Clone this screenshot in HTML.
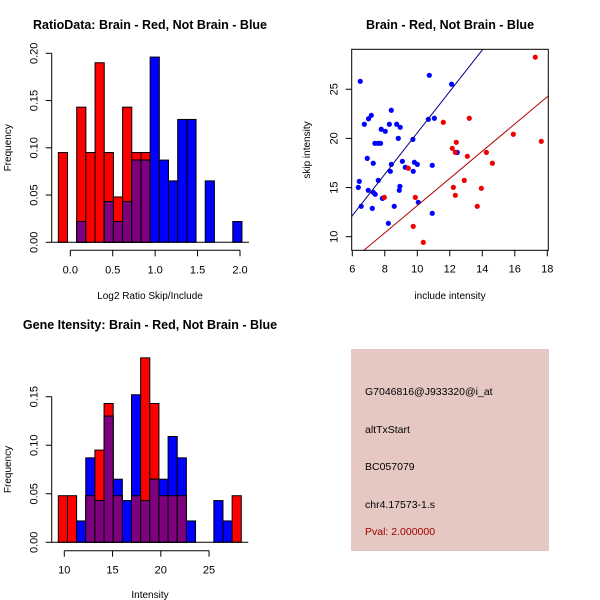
<!DOCTYPE html>
<html><head><meta charset="utf-8"><style>
html,body{margin:0;padding:0;background:#fff;}
svg{display:block;font-family:"Liberation Sans",Arial,sans-serif;}
</style></head><body>
<svg id="c" width="600" height="600" viewBox="0 0 600 600"></svg>
<script>
// ---- data ----
const ratioRed = [0.095,0,0.143,0.095,0.19,0.095,0.048,0.143,0.095,0.095,0,0,0,0,0,0,0,0,0,0];
const ratioBlue = [0,0,0.022,0,0,0.043,0.022,0.043,0.087,0.087,0.196,0.087,0.065,0.13,0.13,0,0.065,0,0,0.022];
const ratioBinStart = -0.141, ratioBinWidth = 0.1082;
const ratioXTicks = [0,0.5,1.0,1.5,2.0];
const ratioXTickLabels = ["0.0","0.5","1.0","1.5","2.0"];
const ratioYTicks = [0,0.05,0.10,0.15,0.20];
const ratioYTickLabels = ["0.00","0.05","0.10","0.15","0.20"];

const geneRed = [0.048,0.048,0,0.048,0.095,0.143,0.048,0,0.048,0.19,0.143,0.048,0.048,0.048,0,0,0,0,0,0.048];
const geneBlue = [0,0,0.022,0.087,0.043,0.13,0.065,0.043,0.152,0.043,0.065,0.065,0.109,0.087,0.022,0,0,0.043,0.022,0];
const geneBinStart = 9.38, geneBinWidth = 0.948;
const geneXTicks = [10,15,20,25];
const geneYTicks = [0,0.05,0.10,0.15];
const geneYTickLabels = ["0.00","0.05","0.10","0.15"];

const blueX = [6.49,10.74,12.11,6.74,7.0,7.17,8.4,8.73,8.28,8.95,7.78,8.03,8.83,9.73,10.68,11.05,7.39,7.58,7.74,6.92,7.29,9.08,9.82,10.0,10.92,8.4,9.26,8.34,9.75,12.46,6.43,6.37,7.6,8.93,8.89,6.98,7.29,7.41,7.85,6.55,8.58,7.23,10.06,10.92,8.22];
const blueY = [25.81,26.42,25.51,21.44,22.0,22.35,22.86,21.44,21.44,21.13,20.93,20.72,20.0,19.9,21.94,22.05,19.5,19.5,19.5,17.97,17.47,17.67,17.57,17.36,17.26,17.36,17.06,16.65,16.65,18.58,15.63,15.02,15.73,15.12,14.72,14.72,14.51,14.31,13.9,13.09,13.09,12.88,13.5,12.38,11.36];
const redX = [17.26,17.63,15.91,14.62,14.25,11.6,13.2,12.4,12.15,12.34,13.08,12.89,12.22,13.94,12.34,13.69,9.45,9.88,7.97,9.75,10.37];
const redY = [28.26,19.7,20.42,17.47,18.58,21.64,22.05,19.6,18.99,18.58,18.18,15.73,15.02,14.92,14.21,13.09,16.96,14.0,14.0,11.05,9.42];
const blueLine = [12.14, 2.107]; // intercept at x=6, slope
const redLine = [8.57, 1.384];   // intercept at x=6.68, slope
const scatXTicks = [6,8,10,12,14,16,18];
const scatYTicks = [10,15,20,25];

const NS="http://www.w3.org/2000/svg";
const svg=document.getElementById('c');
function mk(tag,attrs,parent){const e=document.createElementNS(NS,tag);for(const k in attrs)e.setAttribute(k,attrs[k]);(parent||svg).appendChild(e);return e;}
function txt(s,x,y,attrs,parent){const t=mk('text',Object.assign({x:x,y:y,'font-size':11,'text-anchor':'middle'},attrs||{}),parent);t.textContent=s;return t;}

function histogram(name,red,blue,binStart,binW,xs,x0px,ypx0,ys,xTicks,xLabels,yTicks,yLabels,xAxisY,axisLeft,title,titleY,xlab,xlabY){
  const g=mk('g',{});
  
  
  const X=v=>x0px+(v-xs[0])*xs[1];
  const Y=v=>ypx0-v*ys;
  for(let i=0;i<red.length;i++){
    const l=X(binStart+i*binW), r=X(binStart+(i+1)*binW);
    const rv=red[i], bv=blue[i], m=Math.min(rv,bv);
    if(rv>0){const b=mk('rect',{x:l,y:Y(rv),width:r-l,height:Y(0)-Y(rv),fill:'#ff0000',stroke:'#000','stroke-width':1},g);
      
      }
    if(bv>0){const b=mk('rect',{x:l,y:Y(bv),width:r-l,height:Y(0)-Y(bv),fill:'#0000ff',stroke:'#000','stroke-width':1},g);
      
      }
    if(m>0){const b=mk('rect',{x:l,y:Y(m),width:r-l,height:Y(0)-Y(m),fill:'#7f007f',stroke:'#000','stroke-width':1},g);
      
      }
  }
  const ya=mk('g',{},g);
  
  
  mk('line',{x1:axisLeft,x2:axisLeft,y1:Y(yTicks[0]),y2:Y(yTicks[yTicks.length-1]),stroke:'#000'},ya);
  yTicks.forEach((v,i)=>{mk('line',{x1:axisLeft-6,x2:axisLeft,y1:Y(v),y2:Y(v),stroke:'#000'},ya);
    txt(yLabels[i],axisLeft-14,Y(v),{transform:`rotate(-90 ${axisLeft-14} ${Y(v)})`},ya);});
  mk('line',{x1:axisLeft,x2:X(binStart+red.length*binW)+7,y1:ypx0,y2:ypx0,stroke:'#000'},g);
  const xa=mk('g',{},g);
  
  
  mk('line',{x1:X(xTicks[0]),x2:X(xTicks[xTicks.length-1]),y1:xAxisY,y2:xAxisY,stroke:'#000'},xa);
  xTicks.forEach((v,i)=>{mk('line',{x1:X(v),x2:X(v),y1:xAxisY,y2:xAxisY+6,stroke:'#000'},xa);
    txt(xLabels[i],X(v),xAxisY+23,{},xa);});
  const t=txt(title,150,titleY,{'font-weight':'bold','font-size':12.5},g);
  
  
  const xl=txt(xlab,150,xlabY,{'font-size':10},g);
  
  
  const yl=txt('Frequency',11,(ypx0+Y(yTicks[yTicks.length-1]))/2,{'font-size':10,transform:`rotate(-90 11 ${(ypx0+Y(yTicks[yTicks.length-1]))/2})`},g);
  
  
}

histogram('ratio-histogram',ratioRed,ratioBlue,ratioBinStart,ratioBinWidth,[0,84.85],70.3,242.3,945,ratioXTicks,ratioXTickLabels,ratioYTicks,ratioYTickLabels,250.3,51.7,'RatioData: Brain - Red, Not Brain - Blue',29,'Log2 Ratio Skip/Include',299);
histogram('gene-intensity-histogram',geneRed,geneBlue,geneBinStart,geneBinWidth,[10,9.65],64.3,542.3,970.7,geneXTicks,geneXTicks.map(String),geneYTicks,geneYTickLabels,550.7,51.7,'Gene Itensity: Brain - Red, Not Brain - Blue',329,'Intensity',598);

(function(){
  const g=mk('g',{});
  
  
  const X=v=>352.3+(v-6)*16.25;
  const Y=v=>236.7-(v-10)*9.83;
  const L=351.7,R=548.3,T=49.3,B=250.3;
  const defs=mk('defs',{},g);
  const cp=mk('clipPath',{id:'sc'},defs);
  mk('rect',{x:L,y:T,width:R-L,height:B-T},cp);
  const pg=mk('g',{'clip-path':'url(#sc)'},g);
  blueX.forEach((x,i)=>{const c=mk('circle',{cx:X(x),cy:Y(blueY[i]),r:2.6,fill:'#0000ff'},pg);
    
    });
  redX.forEach((x,i)=>{const c=mk('circle',{cx:X(x),cy:Y(redY[i]),r:2.6,fill:'#ee0000'},pg);
    
    });
  const bl=mk('line',{x1:X(5),y1:Y(blueLine[0]-blueLine[1]),x2:X(20),y2:Y(blueLine[0]+14*blueLine[1]),stroke:'#00008b'},pg);
  
  
  const rl=mk('line',{x1:X(5),y1:Y(redLine[0]+(5-6.68)*redLine[1]),x2:X(20),y2:Y(redLine[0]+(20-6.68)*redLine[1]),stroke:'#b00000'},pg);
  
  
  const box=mk('rect',{x:L,y:T,width:R-L,height:B-T,fill:'none',stroke:'#000'},g);
  
  
  scatXTicks.forEach(v=>{mk('line',{x1:X(v),x2:X(v),y1:B,y2:B+6,stroke:'#000'},g);txt(String(v),X(v),B+22,{},g);});
  scatYTicks.forEach(v=>{mk('line',{x1:L-6,x2:L,y1:Y(v),y2:Y(v),stroke:'#000'},g);txt(String(v),L-14,Y(v),{transform:`rotate(-90 ${L-14} ${Y(v)})`},g);});
  const t=txt('Brain - Red, Not Brain - Blue',450,29,{'font-weight':'bold','font-size':12.5},g);
  
  
  const xl=txt('include intensity',450,299,{'font-size':10},g);
  
  
  const yl=txt('skip intensity',310,150,{'font-size':10,transform:'rotate(-90 310 150)'},g);
  
  
})();

(function(){
  const g=mk('g',{});
  
  
  mk('rect',{x:351,y:349,width:198,height:202,fill:'#e5c8c2'},g);
  const lines=[['G7046816@J933320@i_at',395,'#000'],['altTxStart',433,'#000'],['BC057079',470,'#000'],['chr4.17573-1.s',508,'#000'],['Pval: 2.000000',535,'#a00000']];
  lines.forEach(l=>{const t=txt(l[0],365,l[1],{'text-anchor':'start','font-size':10.5,fill:l[2]},g);
    
    });
})();
</script>
</body></html>
